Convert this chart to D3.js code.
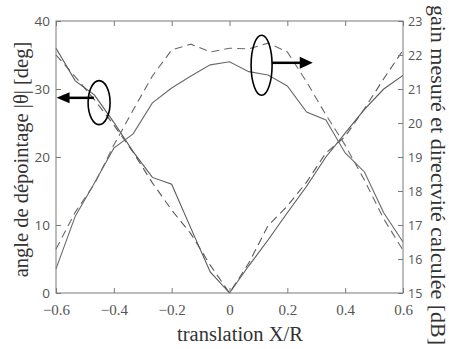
<!DOCTYPE html>
<html><head><meta charset="utf-8">
<script src="https://cdn.jsdelivr.net/npm/d3@7"></script>
<style>html,body{margin:0;padding:0;background:#fff;}svg{display:block;}</style>
</head><body>
<script>
// translation X/R (step 1/15)
const xVals = d3.range(-9, 10).map(k => k / 15);
// angle de dépointage |θ| [deg]
const angleMeasured = [36.0, 31.2, 29.1, 25.1, 20.8, 17.0, 16.0, 9.5, 3.1, 0, 4.0, 7.8, 11.8, 15.7, 20.0, 23.5, 27.0, 30.0, 32.0];
const angleCalc     = [35.0, 31.8, 28.4, 24.7, 20.7, 16.2, 12.2, 8.7, 4.1, 0, 4.4, 9.9, 12.8, 16.3, 20.6, 23.0, 27.1, 31.5, 35.7];
// gain mesuré / directivité calculée [dB]
const gainMeasured  = [15.71, 17.26, 18.24, 19.26, 19.68, 20.59, 21.03, 21.38, 21.71, 21.80, 21.51, 21.41, 21.09, 20.32, 20.09, 19.12, 18.56, 17.36, 16.5];
const directCalc    = [16.29, 17.38, 18.21, 19.35, 20.38, 21.38, 22.15, 22.32, 22.09, 22.2, 22.18, 22.35, 22.09, 21.21, 20.24, 19.35, 18.32, 17.18, 16.26];
const xTicks = [-0.6, -0.4, -0.2, 0, 0.2, 0.4, 0.6];
const leftTicks = [0, 10, 20, 30, 40];
const rightTicks = [15, 16, 17, 18, 19, 20, 21, 22, 23];

const W = 449, H = 349;
const L = 56, R = 403, T = 21, B = 293;
const svg = d3.select("body").append("svg").attr("width", W).attr("height", H);

const x = d3.scaleLinear().domain([-0.6, 0.6]).range([L, R]);
const yL = d3.scaleLinear().domain([0, 40]).range([B, T]);
const yR = d3.scaleLinear().domain([15, 23]).range([B, T]);

const axisColor = "#7a7a7a", tickText = "#555", labelColor = "#333", curveColor = "#5a5a5a";

// curves
const lineL = d3.line().x((d, i) => x(xVals[i])).y(d => yL(d));
const lineR = d3.line().x((d, i) => x(xVals[i])).y(d => yR(d));
const curves = svg.append("g").attr("fill", "none").attr("stroke", curveColor).attr("stroke-width", 1.1);
curves.append("path").attr("d", lineL(angleMeasured));
curves.append("path").attr("d", lineL(angleCalc)).attr("stroke-dasharray", "8,5");
curves.append("path").attr("d", lineR(gainMeasured)).attr("stroke", "#6a6a6a");
curves.append("path").attr("d", lineR(directCalc)).attr("stroke", "#6a6a6a").attr("stroke-dasharray", "8,5");

// axes (inward ticks, box)
const fmtX = d => d === 0 ? "0" : d3.format(".1f")(d);
function styleAxis(g) {
  g.selectAll(".domain").remove();
  g.selectAll(".tick line").attr("stroke", axisColor);
}
const axB = svg.append("g").attr("transform", `translate(0,${B})`)
  .call(d3.axisBottom(x).tickValues(xTicks).tickSizeInner(-5).tickSizeOuter(0).tickPadding(11).tickFormat(fmtX));
styleAxis(axB);
axB.selectAll("text").attr("font-family", "Liberation Serif, serif").attr("font-size", 15).attr("fill", tickText);
const axT = svg.append("g").attr("transform", `translate(0,${T})`)
  .call(d3.axisTop(x).tickValues(xTicks).tickSizeInner(-5).tickSizeOuter(0).tickFormat(""));
styleAxis(axT);
const axL = svg.append("g").attr("transform", `translate(${L},0)`)
  .call(d3.axisLeft(yL).tickValues(leftTicks).tickSizeInner(-5).tickSizeOuter(0).tickPadding(6));
styleAxis(axL);
axL.selectAll("text").attr("font-family", "Open Sans, sans-serif").attr("font-size", 13.5).attr("fill", tickText);
const axR = svg.append("g").attr("transform", `translate(${R},0)`)
  .call(d3.axisRight(yR).tickValues(rightTicks).tickSizeInner(-5).tickSizeOuter(0).tickPadding(5));
styleAxis(axR);
axR.selectAll("text").attr("font-family", "Open Sans, sans-serif").attr("font-size", 12.5).attr("fill", tickText);

svg.append("rect").attr("x", L).attr("y", T).attr("width", R - L).attr("height", B - T)
  .attr("fill", "none").attr("stroke", axisColor).attr("stroke-width", 1);

// axis labels
svg.append("text").attr("x", 240).attr("y", 340.5).attr("text-anchor", "middle")
  .attr("font-family", "Liberation Serif, serif").attr("font-size", 20.5).attr("fill", labelColor)
  .text("translation X/R");
svg.append("text").attr("transform", `translate(27.5,159.5) rotate(-90)`).attr("text-anchor", "middle")
  .attr("font-family", "Liberation Serif, serif").attr("font-size", 20.5).attr("fill", labelColor)
  .text("angle de dépointage |θ| [deg]");
svg.append("text").attr("transform", `translate(430.5,175) rotate(90)`).attr("text-anchor", "middle")
  .attr("font-family", "Liberation Serif, serif").attr("font-size", 22).attr("fill", labelColor)
  .text("gain mesuré et directvité calculée [dB]");

// annotations: ellipses + arrows
const ann = svg.append("g");
ann.append("ellipse").attr("cx", x(-0.451)).attr("cy", yL(28.0)).attr("rx", 11).attr("ry", 22)
  .attr("fill", "none").attr("stroke", "#000").attr("stroke-width", 1.6);
ann.append("line").attr("x1", x(-0.469)).attr("x2", x(-0.56)).attr("y1", yL(28.7)).attr("y2", yL(28.7))
  .attr("stroke", "#000").attr("stroke-width", 2.5);
const aL = [x(-0.598), yL(28.7)];
ann.append("path").attr("d", `M${aL[0]},${aL[1]} L${aL[0] + 13},${aL[1] - 5.5} L${aL[0] + 13},${aL[1] + 5.5} Z`).attr("fill", "#000");

ann.append("ellipse").attr("cx", x(0.111)).attr("cy", yR(21.7)).attr("rx", 10.5).attr("ry", 30)
  .attr("fill", "none").attr("stroke", "#000").attr("stroke-width", 1.6);
ann.append("line").attr("x1", x(0.147)).attr("x2", x(0.25)).attr("y1", yR(21.77)).attr("y2", yR(21.77))
  .attr("stroke", "#000").attr("stroke-width", 2.5);
const aR = [x(0.288), yR(21.77)];
ann.append("path").attr("d", `M${aR[0]},${aR[1]} L${aR[0] - 13},${aR[1] - 6} L${aR[0] - 13},${aR[1] + 6} Z`).attr("fill", "#000");
</script>
</body></html>
